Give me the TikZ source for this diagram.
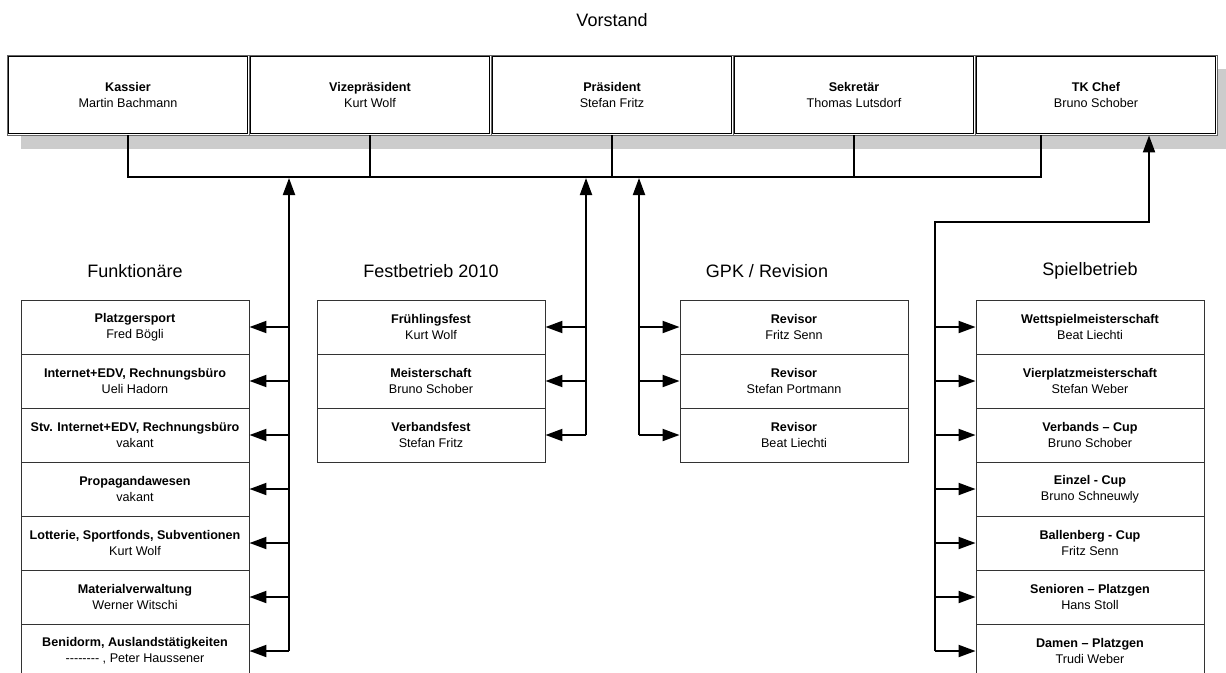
\documentclass[tikz,border=0pt]{standalone}
\usepackage{fontspec}
\setmainfont{Liberation Sans}
\usetikzlibrary{arrows.meta}
\begin{document}
\begin{tikzpicture}[x=0.75pt,y=-0.75pt,
  topbox/.style={draw=black!60, line width=0.6pt, minimum width=181.5pt, minimum height=60pt,
    inner sep=0pt, align=center, font=\fontsize{9.45}{11.5}\selectfont, fill=white},
  unitbox/.style={draw=black!80, line width=0.7pt, minimum width=171pt, minimum height=40.5pt,
    inner sep=0pt, align=center, font=\fontsize{9.45}{12}\selectfont, fill=white},
  grouplabel/.style={font=\fontsize{13.5}{16}\selectfont, inner sep=0pt},
  conn/.style={draw=black, line width=1.5pt},
  arr/.style={conn, -{Triangle[length=12.75pt,width=9pt]}},
]
\clip (0,0) rectangle (1226,672);
\useasboundingbox (0,0) rectangle (1226,672);

% title
\node[grouplabel] (vorstand) at (612,20) {Vorstand};

% shadow of the board
\fill[black!20] (21,69) rectangle (1240,149);

% board
\node[topbox] (kas) at (128,95) {\textbf{Kassier}\\Martin Bachmann};
\node[topbox] (vize) at (370,95) {\textbf{Vizepräsident}\\Kurt Wolf};
\node[topbox] (praes) at (612,95) {\textbf{Präsident}\\Stefan Fritz};
\node[topbox] (sek) at (854,95) {\textbf{Sekretär}\\Thomas Lutsdorf};
\node[topbox] (tk) at (1096,95) {\textbf{TK Chef}\\Bruno Schober};
\foreach \n in {kas,vize,praes,sek,tk}{
  \draw[black, line width=0.6pt] ([shift={(2,2)}]\n.north west) rectangle ([shift={(-2,-2)}]\n.south east);
}

% group labels
\node[grouplabel] (lfunk) at (135,271) {Funktionäre};
\node[grouplabel] (lfest) at (431,271) {Festbetrieb 2010};
\node[grouplabel] (lgpk) at (767,271) {GPK / Revision};
\node[grouplabel] (lspiel) at (1090,271) {Spielbetrieb};

% Funktionäre
\node[unitbox] (f1) at (135,327) {\textbf{Platzgersport}\\Fred Bögli};
\node[unitbox] (f2) at (135,381) {\textbf{Internet+EDV, Rechnungsbüro}\\Ueli Hadorn};
\node[unitbox] (f3) at (135,435) {\textbf{Stv. Internet+EDV, Rechnungsbüro}\\vakant};
\node[unitbox] (f4) at (135,489) {\textbf{Propagandawesen}\\vakant};
\node[unitbox] (f5) at (135,543) {\textbf{Lotterie, Sportfonds, Subventionen}\\Kurt Wolf};
\node[unitbox] (f6) at (135,597) {\textbf{Materialverwaltung}\\Werner Witschi};
\node[unitbox] (f7) at (135,651) {\textbf{Benidorm, Auslandstätigkeiten}\\-{}-{}-{}-{}-{}-{}-{}- , Peter Haussener};

% Festbetrieb
\node[unitbox] (e1) at (431,327) {\textbf{Frühlingsfest}\\Kurt Wolf};
\node[unitbox] (e2) at (431,381) {\textbf{Meisterschaft}\\Bruno Schober};
\node[unitbox] (e3) at (431,435) {\textbf{Verbandsfest}\\Stefan Fritz};

% GPK
\node[unitbox] (g1) at (794,327) {\textbf{Revisor}\\Fritz Senn};
\node[unitbox] (g2) at (794,381) {\textbf{Revisor}\\Stefan Portmann};
\node[unitbox] (g3) at (794,435) {\textbf{Revisor}\\Beat Liechti};

% Spielbetrieb
\node[unitbox] (s1) at (1090,327) {\textbf{Wettspielmeisterschaft}\\Beat Liechti};
\node[unitbox] (s2) at (1090,381) {\textbf{Vierplatzmeisterschaft}\\Stefan Weber};
\node[unitbox] (s3) at (1090,435) {\textbf{Verbands – Cup}\\Bruno Schober};
\node[unitbox] (s4) at (1090,489) {\textbf{Einzel - Cup}\\Bruno Schneuwly};
\node[unitbox] (s5) at (1090,543) {\textbf{Ballenberg - Cup}\\Fritz Senn};
\node[unitbox] (s6) at (1090,597) {\textbf{Senioren – Platzgen}\\Hans Stoll};
\node[unitbox] (s7) at (1090,651) {\textbf{Damen – Platzgen}\\Trudi Weber};

% helper coordinates
\coordinate (bus) at (0,177);
\coordinate (tkd) at ([xshift=-41.25pt]tk.south);
\coordinate (tku) at ([xshift=39.75pt]tk.south);
\coordinate (ftop) at (289,178);
\coordinate (etop) at (586,178);
\coordinate (gtop) at (639,178);
\coordinate (sx) at (935,222);

% board bus
\draw[conn] (kas.south) -- (kas.south |- bus) -- (tkd |- bus) -- (tkd);
\draw[conn] (vize.south) -- (vize.south |- bus);
\draw[conn] (praes.south) -- (praes.south |- bus);
\draw[conn] (sek.south) -- (sek.south |- bus);

% Funktionäre connectors
\draw[arr] (f7.east -| ftop) -- (ftop);
\foreach \n in {f1,f2,f3,f4,f5,f6,f7}{
  \draw[arr] (\n.east -| ftop) -- (\n.east);
}

% Festbetrieb connectors
\draw[arr] (e3.east -| etop) -- (etop);
\foreach \n in {e1,e2,e3}{
  \draw[arr] (\n.east -| etop) -- (\n.east);
}

% GPK connectors
\draw[arr] (g3.west -| gtop) -- (gtop);
\foreach \n in {g1,g2,g3}{
  \draw[arr] (\n.west -| gtop) -- (\n.west);
}

% Spielbetrieb connectors
\draw[arr] (s7.west -| sx) -- (sx) -- (sx -| tku) -- (tku);
\foreach \n in {s1,s2,s3,s4,s5,s6,s7}{
  \draw[arr] (\n.west -| sx) -- (\n.west);
}
\end{tikzpicture}
\end{document}
